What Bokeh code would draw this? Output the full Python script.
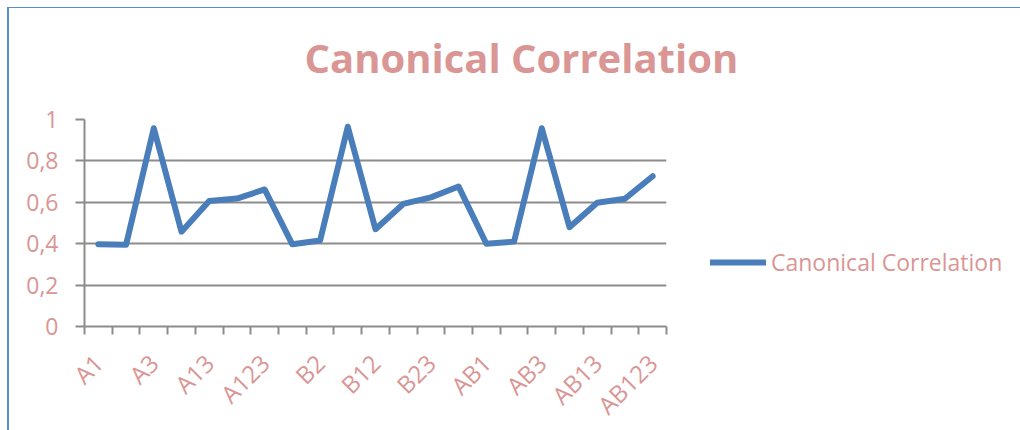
import math
from bokeh.plotting import figure
from bokeh.models import (Range1d, FixedTicker, Legend, LegendItem, Title,
                          ColumnDataSource)
from bokeh.embed import file_html
from bokeh.resources import INLINE

# ---- data ----
categories = ["A1", "A2", "A3", "A12", "A13", "A23", "A123",
              "B1", "B2", "B3", "B12", "B13", "B23", "B123",
              "AB1", "AB2", "AB3", "AB12", "AB13", "AB23", "AB123"]
canonical_correlation = [0.397, 0.395, 0.958, 0.458, 0.606, 0.618, 0.662,
                         0.397, 0.415, 0.965, 0.470, 0.592, 0.624, 0.676,
                         0.400, 0.410, 0.958, 0.480, 0.598, 0.617, 0.726]
shown_x_labels = ["A1", "A3", "A13", "A123", "B2", "B12", "B23",
                  "AB1", "AB3", "AB13", "AB123"]
y_tick_values = [0, 0.2, 0.4, 0.6, 0.8, 1]
y_tick_labels = ["0", "0,2", "0,4", "0,6", "0,8", "1"]
title_text = "Canonical Correlation"
series_name = "Canonical Correlation"

TEXT_COLOR = "#D99694"
LINE_COLOR = "#4A7EBB"
GRID_COLOR = "#8C8C8C"
FONT = "Open Sans"

x_pos = [i + 0.5 for i in range(len(categories))]
src = ColumnDataSource(data=dict(x=x_pos, y=canonical_correlation, cat=categories))

p = figure(frame_width=582, frame_height=207,
           min_border_left=75, min_border_right=347,
           min_border_top=111, min_border_bottom=95,
           x_range=Range1d(0, len(categories)), y_range=Range1d(0, 1),
           output_backend="svg", toolbar_location=None)
p.styles = {"border-left": "2px solid #558ED5", "border-top": "1px solid #558ED5",
            "margin-left": "7px", "margin-top": "7px"}
p.outline_line_color = None
p.background_fill_color = "white"
p.border_fill_color = "white"

r = p.line("x", "y", source=src, line_color=LINE_COLOR, line_width=6,
           line_join="round", line_cap="round")

# x axis
label_map = {}
for xp, c in zip(x_pos, categories):
    label_map[xp] = c if c in shown_x_labels else ""
xa = p.xaxis[0]
xa.ticker = FixedTicker(ticks=x_pos, minor_ticks=list(range(len(categories) + 1)))
xa.major_label_overrides = label_map
xa.major_tick_line_color = None
xa.major_tick_out = 0
xa.major_tick_in = 0
xa.minor_tick_out = 8
xa.minor_tick_in = 0
xa.minor_tick_line_color = GRID_COLOR
xa.minor_tick_line_width = 2
xa.axis_line_color = GRID_COLOR
xa.axis_line_width = 2
xa.major_label_orientation = math.pi / 4
xa.major_label_standoff = 24
xa.major_label_text_font = FONT
xa.major_label_text_font_size = "24px"
xa.major_label_text_color = TEXT_COLOR

# y axis
ya = p.yaxis[0]
ya.ticker = FixedTicker(ticks=y_tick_values)
ya.major_label_overrides = dict(zip(y_tick_values, y_tick_labels))
ya.minor_tick_line_color = None
ya.major_tick_out = 9
ya.major_tick_in = 0
ya.major_tick_line_color = GRID_COLOR
ya.major_tick_line_width = 2
ya.axis_line_color = GRID_COLOR
ya.axis_line_width = 2
ya.major_label_standoff = 17
ya.major_label_text_font = FONT
ya.major_label_text_font_size = "23px"
ya.major_label_text_color = TEXT_COLOR

p.xgrid.grid_line_color = None
p.ygrid.grid_line_color = GRID_COLOR
p.ygrid.grid_line_width = 2
p.ygrid.ticker = FixedTicker(ticks=y_tick_values)

# blank spacer between the plot area and the title (added first = nearest the frame)
spacer = Title(text=" ", standoff=30, text_font=FONT, text_font_size="1px",
               text_color="white")
p.add_layout(spacer, "above")

# title
title = Title(text=title_text, align="left", offset=220, vertical_align="top",
              standoff=0, text_font=FONT, text_font_style="bold",
              text_font_size="40px", text_color=TEXT_COLOR)
p.add_layout(title, "above")

# legend
legend = Legend(items=[LegendItem(label=series_name, renderers=[r])],
                location=(44, 48), glyph_width=56, glyph_height=20,
                label_standoff=5, padding=0, margin=0, spacing=0,
                border_line_color=None, background_fill_alpha=0,
                label_text_font=FONT, label_text_font_size="23px",
                label_text_color=TEXT_COLOR)
p.add_layout(legend, "right")

open("out.html", "w").write(file_html(p, INLINE))
